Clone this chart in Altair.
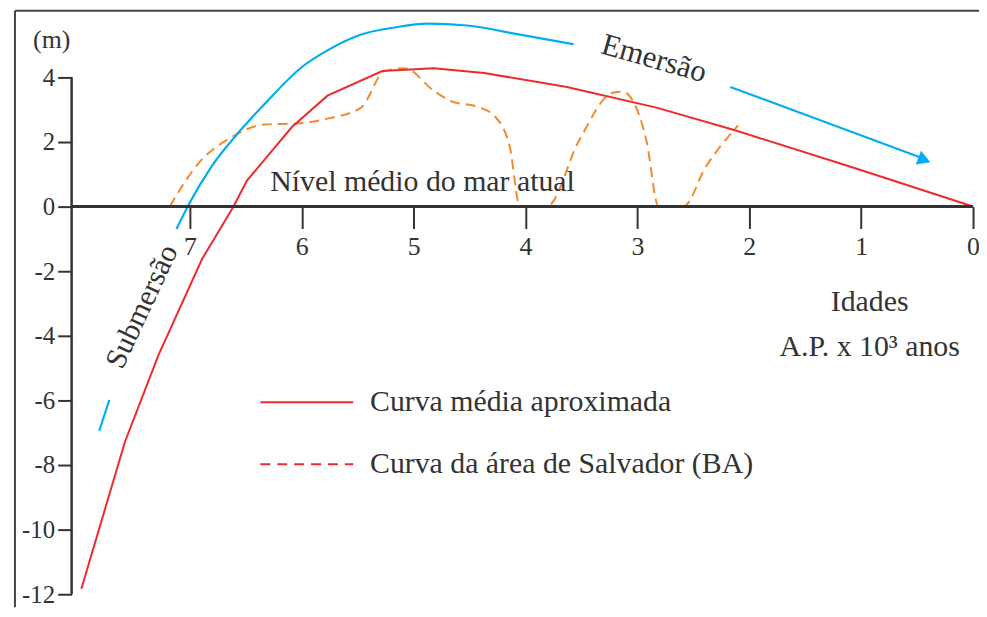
import altair as alt
import pandas as pd

# ---------------- data (ages in 10^3 years B.P., levels in m) ----------------
red_age = [7.97, 7.58, 7.28, 6.89, 6.61, 6.49, 6.09, 5.77, 5.28, 4.82, 4.37, 3.63, 2.83, 2.12, 1.06, 0.0]
red_level = [-11.83, -7.28, -4.59, -1.62, 0.0, 0.80, 2.45, 3.43, 4.19, 4.28, 4.13, 3.70, 3.06, 2.35, 1.19, 0.0]

salv_age = [7.18, 6.92, 6.63, 6.33, 6.03, 5.77, 5.47, 5.26, 5.08, 4.82, 4.67, 4.41, 4.28, 4.14,
            4.05, 3.81, 3.52, 3.22, 3.13, 3.04, 2.92, 2.81, 2.59, 2.39, 2.10]
salv_level = [0.0, 1.35, 2.14, 2.54, 2.57, 2.72, 3.06, 4.19, 4.28, 3.58, 3.27, 3.06, 2.81, 1.83,
              0.0, 0.0, 2.05, 3.52, 3.55, 3.27, 2.05, 0.0, 0.0, 1.22, 2.51]

# blue trend arrow (Submersão -> Emersão), three pieces
blue_a_age = [7.81, 7.72]
blue_a_level = [-6.94, -5.99]
blue_b_age = [7.12, 7.01, 6.81, 6.55, 6.33, 5.99, 5.77, 5.47, 5.17, 4.88, 4.52, 4.10, 3.57]
blue_b_level = [-0.70, 0.06, 1.22, 2.35, 3.18, 4.34, 4.83, 5.32, 5.54, 5.66, 5.60, 5.35, 5.02]
blue_c_age = [2.17, 0.48]
blue_c_level = [3.70, 1.53]
arrow_head_age = [0.435]
arrow_head_level = [1.44]

x_ticks = [0, 1, 2, 3, 4, 5, 6, 7]
y_ticks = [-12, -10, -8, -6, -4, -2, 0, 2, 4]

legend_labels = ["Curva média aproximada", "Curva da área de Salvador (BA)"]
legend_level = [-6.06, -7.98]
legend_line_start = 6.37
legend_line_end = 5.54
legend_text_age = 5.39

axis_left_age = 8.057
axis_top_level = 4
axis_bottom_level = -12

# ---------------- styling ----------------
W, H = 977, 601
FONT = "Liberation Serif"
TXT = "#333333"
RED = "#ED2A2E"
BLUE = "#00AEEF"
ORANGE = "#F58A2C"

x_scale = alt.Scale(domain=[-0.0533, 8.6257], reverse=True, nice=False, zero=False)
y_scale = alt.Scale(domain=[-12.40, 6.0856], nice=False, zero=False)

x_axis = alt.Axis(values=x_ticks, orient="bottom", offset=-403, domain=False, grid=False,
                  tickSize=22, tickWidth=2, tickColor=TXT, labelFont=FONT, labelFontSize=26,
                  labelColor=TXT, labelPadding=5, labelFlush=False, labelOverlap=False,
                  labelExpr="'' + datum.value", title=None)
y_axis = alt.Axis(values=y_ticks, orient="left", offset=-64, domain=False, grid=False,
                  tickSize=14, tickWidth=2, tickColor=TXT, labelFont=FONT, labelFontSize=25,
                  labelColor=TXT, labelPadding=3, labelFlush=False, labelOverlap=False,
                  labelExpr="'' + datum.value", title=None)


def X(field="age"):
    return alt.X(f"{field}:Q", scale=x_scale, axis=x_axis)


def Y(field="level"):
    return alt.Y(f"{field}:Q", scale=y_scale, axis=y_axis)


def line_df(ages, levels, seg="s"):
    return pd.DataFrame({"age": ages, "level": levels, "i": list(range(len(ages))), "seg": seg})


red_df = line_df(red_age, red_level)
salv_df = line_df(salv_age, salv_level)
blue_df = pd.concat([
    line_df(blue_a_age, blue_a_level, "a"),
    line_df(blue_b_age, blue_b_level, "b"),
    line_df(blue_c_age, blue_c_level, "c"),
])

# frame (top and left border)
frame_left = alt.Chart(pd.DataFrame({"k": [0]})).mark_rule(color="#444444", strokeWidth=2).encode(
    x=alt.value(7), y=alt.value(1), y2=alt.value(H))
frame_top = alt.Chart(pd.DataFrame({"k": [0]})).mark_rule(color="#444444", strokeWidth=2).encode(
    x=alt.value(7), x2=alt.value(W), y=alt.value(1))

salv = alt.Chart(salv_df).mark_line(color=ORANGE, strokeWidth=2, strokeDash=[10, 6],
                                    interpolate="monotone").encode(
    x=X(), y=Y(), order="i:Q")
red = alt.Chart(red_df).mark_line(color=RED, strokeWidth=2).encode(x=X(), y=Y(), order="i:Q")
blue = alt.Chart(blue_df).mark_line(color=BLUE, strokeWidth=2.2, interpolate="monotone").encode(
    x=X(), y=Y(), detail="seg:N", order="i:Q")
head = alt.Chart(pd.DataFrame({"age": arrow_head_age, "level": arrow_head_level})).mark_point(
    shape="triangle-right", filled=True, color=BLUE, opacity=1, size=220, angle=21).encode(x=X(), y=Y())

zero_line = alt.Chart(pd.DataFrame({"age": [axis_left_age], "age2": [0], "level": [0]})).mark_rule(
    color=TXT, strokeWidth=3).encode(x=X(), x2="age2:Q", y=Y())
y_line = alt.Chart(pd.DataFrame({"age": [axis_left_age], "level": [axis_bottom_level],
                                 "level2": [axis_top_level]})).mark_rule(
    color=TXT, strokeWidth=2.5).encode(x=X(), y=Y(), y2="level2:Q")


def text_layer(label, age, level, size=30, **kw):
    d = pd.DataFrame({"age": [age], "level": [level], "t": [label]})
    return alt.Chart(d).mark_text(font=FONT, fontSize=size, color=TXT, **kw).encode(
        x=X(), y=Y(), text="t:N")


texts = [
    text_layer("(m)", 8.235, 5.14, size=26, align="center", baseline="middle"),
    text_layer("Nível médio do mar atual", 6.281, 0.49, align="left", baseline="alphabetic"),
    text_layer("Idades", 0.924, -3.24, align="center", baseline="alphabetic"),
    text_layer("A.P. x 10³ anos", 0.924, -4.62, align="center", baseline="alphabetic"),
    text_layer("Submersão", 7.427, -3.10, align="center", baseline="middle", angle=295),
    text_layer("Emersão", 2.852, 4.56, size=31, align="center", baseline="middle", angle=16),
]

leg_df = pd.DataFrame({"age": [legend_line_start] * 2, "age2": [legend_line_end] * 2,
                       "level": legend_level, "t": legend_labels, "k": [0, 1]})
leg_solid = alt.Chart(leg_df[leg_df.k == 0]).mark_rule(color=RED, strokeWidth=2).encode(
    x=X(), x2="age2:Q", y=Y())
leg_dash = alt.Chart(leg_df[leg_df.k == 1]).mark_rule(color=RED, strokeWidth=2, strokeDash=[10, 7]).encode(
    x=X(), x2="age2:Q", y=Y())
leg_text = alt.Chart(leg_df.assign(tx=legend_text_age)).mark_text(
    font=FONT, fontSize=30, color=TXT, align="left", baseline="middle").encode(
    x=X("tx"), y=Y(), text="t:N")

chart = alt.layer(
    frame_left, frame_top, salv, red, blue, head, zero_line, y_line, *texts,
    leg_solid, leg_dash, leg_text
).properties(
    width=W, height=H, padding=0, autosize=alt.AutoSizeParams(type="none"),
    background="white"
).configure_view(stroke=None)

chart.save("out.html", embed_options={"renderer": "svg", "actions": False})
